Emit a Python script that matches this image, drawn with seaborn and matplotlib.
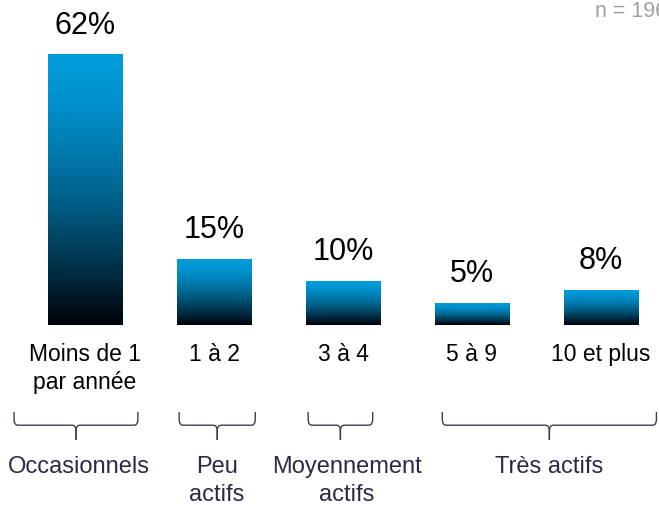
import numpy as np
import matplotlib
matplotlib.use('Agg')
import matplotlib.pyplot as plt
import matplotlib.transforms as mtransforms
from matplotlib.path import Path
from matplotlib.patches import PathPatch
import seaborn as sns

categories = ['Moins de 1\npar année', '1 à 2', '3 à 4', '5 à 9', '10 et plus']
values = [62, 15, 10, 5, 8]
labels = ['62%', '15%', '10%', '5%', '8%']
groups = ['Occasionnels', 'Peu\nactifs', 'Moyennement\nactifs', 'Très actifs']
group_start = [-0.55, 0.73, 1.73, 2.77]
group_end = [0.41, 1.32, 2.23, 4.43]
group_text_x = [-0.05, 1.02, 2.03, 3.6]
n_text = 'n = 196'

sns.set_style('white')
plt.rcParams['font.family'] = ['Liberation Sans', 'DejaVu Sans']

fig = plt.figure(figsize=(6.59, 5.05), dpi=100)
ax = fig.add_axes([0, 0.3564, 1, 0.6436])

sns.barplot(x=categories, y=values, ax=ax, width=0.58, color='white')

# vertical gradient: bright blue at the top, black at the bottom
top = np.array([0.0, 0.61, 0.86])
bot = np.array([0.0, 0.01, 0.03])
t = np.linspace(0, 1, 256)[:, None] ** 1.5
grad = (top * (1 - t) + bot * t)[:, None, :]

for p, lab in zip(ax.patches, labels):
    x, w, h = p.get_x(), p.get_width(), p.get_height()
    p.set_facecolor('none')
    p.set_edgecolor('none')
    ax.imshow(grad, extent=[x, x + w, 0, h], aspect='auto', origin='upper', zorder=2)
    ax.annotate(lab, (x + w / 2, h), xytext=(0, 21), textcoords='offset points',
                ha='center', va='center', fontsize=22, color='black')

ax.set_xlim(-0.659, 4.45)
ax.set_ylim(0, 74.6)
ax.set_yticks([])
ax.set_ylabel('')
sns.despine(ax=ax, left=True, bottom=True)
ax.tick_params(axis='x', length=0, pad=13, labelsize=16.5, labelcolor='black')
for tl in ax.get_xticklabels():
    tl.set_linespacing(1.3)

# brackets under the categories
trans = mtransforms.blended_transform_factory(ax.transData, fig.transFigure)
ytop, yh, ybot = 0.184, 0.158, 0.129
r, rx = 0.012, 0.03
bcolor = '#3c3c50'
for x0, x1 in zip(group_start, group_end):
    xc = (x0 + x1) / 2
    for xs, sgn in ((x0, 1), (x1, -1)):
        verts = [(xs, ytop), (xs, yh + r), (xs, yh), (xs + sgn * rx, yh),
                 (xc - sgn * rx, yh), (xc, yh), (xc, yh - r), (xc, ybot)]
        codes = [Path.MOVETO, Path.LINETO, Path.CURVE3, Path.CURVE3,
                 Path.LINETO, Path.CURVE3, Path.CURVE3, Path.LINETO]
        ax.add_patch(PathPatch(Path(verts, codes), transform=trans, fill=False,
                               edgecolor=bcolor, lw=1.0, clip_on=False))

for gx, g in zip(group_text_x, groups):
    ax.text(gx, 0.098, g, transform=trans, ha='center', va='top', fontsize=17,
            color='#2a2a44', linespacing=1.4, multialignment='center')

fig.text(0.903, 0.966, n_text, ha='left', va='baseline', fontsize=15.5, color='#a0a0a0')

fig.savefig('out.png', dpi=100)
